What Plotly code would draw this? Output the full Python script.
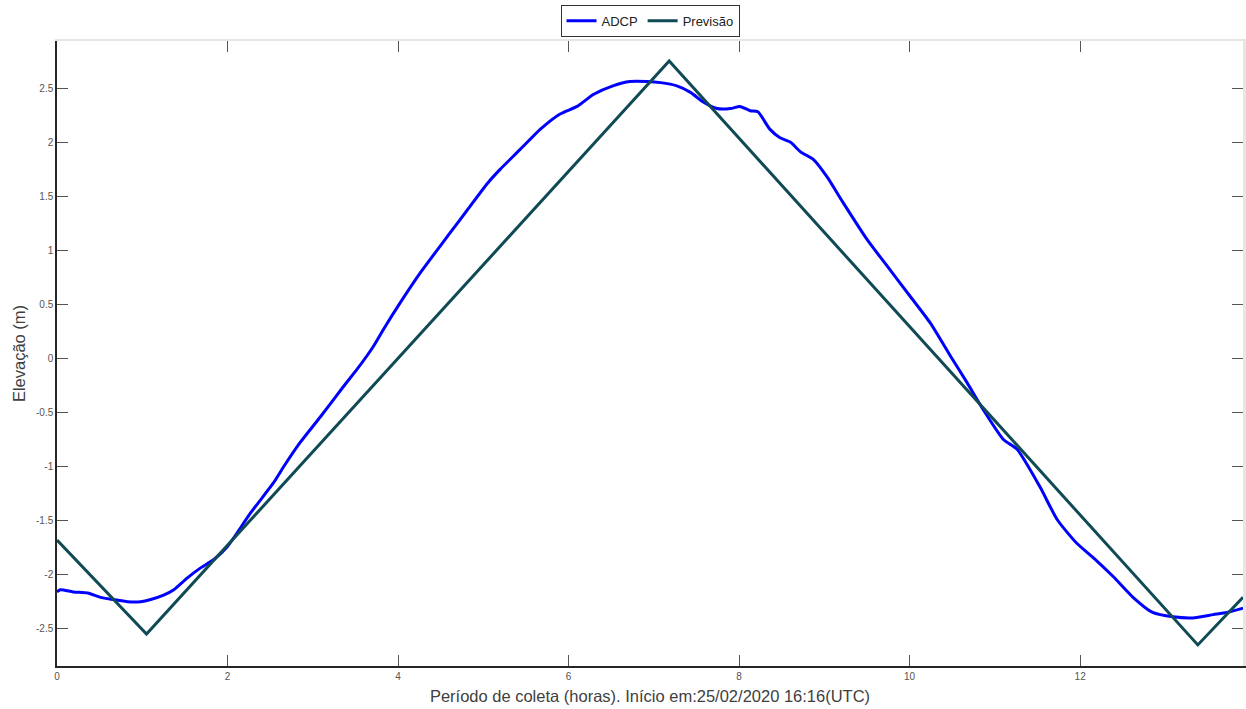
import plotly.graph_objects as go

# ADCP measured elevation (hours since start, metres)
adcp_t = [0.00, 0.04, 0.19, 0.36, 0.51, 0.66, 0.83, 0.98, 1.10, 1.25, 1.37, 1.53, 1.68, 1.84,
          2.00, 2.27, 2.54, 2.66, 2.85, 3.09, 3.36, 3.52, 3.71, 3.83, 4.03, 4.26, 4.61, 4.81,
          5.05, 5.20, 5.43, 5.67, 5.90, 6.10, 6.29, 6.52, 6.72, 6.92, 7.08, 7.27, 7.43, 7.58,
          7.74, 7.90, 8.01, 8.13, 8.22, 8.36, 8.48, 8.60, 8.72, 8.87, 9.03, 9.22, 9.50, 9.74,
          10.01, 10.24, 10.48, 10.67, 10.86, 11.10, 11.26, 11.53, 11.73, 11.96, 12.15, 12.39,
          12.62, 12.85, 13.09, 13.32, 13.56, 13.72, 13.91]
adcp_h = [-2.16, -2.14, -2.16, -2.17, -2.21, -2.23, -2.25, -2.25, -2.23, -2.19, -2.14, -2.03,
          -1.94, -1.86, -1.74, -1.43, -1.15, -1.00, -0.78, -0.54, -0.26, -0.10, 0.11, 0.27,
          0.52, 0.79, 1.16, 1.37, 1.62, 1.75, 1.93, 2.12, 2.26, 2.33, 2.44, 2.52, 2.56, 2.56,
          2.55, 2.52, 2.46, 2.37, 2.31, 2.31, 2.33, 2.29, 2.28, 2.12, 2.04, 2.00, 1.91, 1.84,
          1.68, 1.44, 1.10, 0.85, 0.57, 0.33, 0.02, -0.22, -0.47, -0.75, -0.84, -1.19, -1.49,
          -1.71, -1.84, -2.02, -2.21, -2.35, -2.39, -2.40, -2.37, -2.35, -2.31]

# Predicted tide: straight segments between the tabulated extremes
prev_t = [0.00, 1.05, 7.18, 13.38, 13.91]
prev_h = [-1.68, -2.55, 2.75, -2.65, -2.21]

x_ticks = [0, 2, 4, 6, 8, 10, 12]
y_ticks = [-2.5, -2, -1.5, -1, -0.5, 0, 0.5, 1, 1.5, 2, 2.5]
y_labels = ["-2.5", "-2", "-1.5", "-1", "-0.5", "0", "0.5", "1", "1.5", "2", "2.5"]

x_range = [0, 13.91]
y_range = [-2.845, 2.935]

font = "Liberation Sans, Arial, sans-serif"

fig = go.Figure()
fig.add_trace(go.Scatter(x=adcp_t, y=adcp_h, mode="lines", name="ADCP",
                         line=dict(color="#0000FF", width=3, shape="spline", smoothing=0.6)))
fig.add_trace(go.Scatter(x=prev_t, y=prev_h, mode="lines", name="Previsão",
                         line=dict(color="#0F4A55", width=3)))
# empty trace that brings up the top/right box axes
fig.add_trace(go.Scatter(x=[None], y=[None], xaxis="x2", yaxis="y2",
                         showlegend=False, hoverinfo="skip"))

axis_common = dict(ticks="inside", ticklen=11, tickwidth=1, tickcolor="#555555",
                   showgrid=False, zeroline=False,
                   tickfont=dict(family=font, size=10, color="#555555"))

fig.update_layout(
    width=1246, height=709,
    margin=dict(l=57, r=3, t=41, b=43),
    paper_bgcolor="white", plot_bgcolor="white",
    font=dict(family=font, color="#404040"),
    showlegend=True,
    legend=dict(orientation="h", x=0.5, xanchor="center", y=1.058, yanchor="top",
                bordercolor="#333333", borderwidth=1, bgcolor="white",
                font=dict(family=font, size=13, color="#222222"),
                itemwidth=30, tracegroupgap=0, valign="middle"),
    xaxis=dict(range=x_range, tickvals=x_ticks, ticktext=[str(v) for v in x_ticks],
               showline=True, linecolor="#262626", linewidth=1.5,
               title=dict(text="Período de coleta (horas). Início em:25/02/2020 16:16(UTC)",
                          font=dict(family=font, size=16.5, color="#404040"), standoff=10),
               **axis_common),
    yaxis=dict(range=y_range, tickvals=y_ticks, ticktext=y_labels,
               showline=True, linecolor="#262626", linewidth=1.5,
               title=dict(text="Elevação (m)",
                          font=dict(family=font, size=16.5, color="#404040"), standoff=6),
               **axis_common),
    # box edges on the opposite sides, with mirrored inward ticks
    xaxis2=dict(overlaying="x", matches="x", side="top", anchor="y2", showticklabels=False,
                showline=True, linecolor="#E6E6E6", linewidth=2,
                tickvals=x_ticks, **axis_common),
    yaxis2=dict(overlaying="y", matches="y", side="right", anchor="x2", showticklabels=False,
                showline=True, linecolor="#E6E6E6", linewidth=3,
                tickvals=y_ticks, **axis_common),
)

fig.write_html("out.html")
